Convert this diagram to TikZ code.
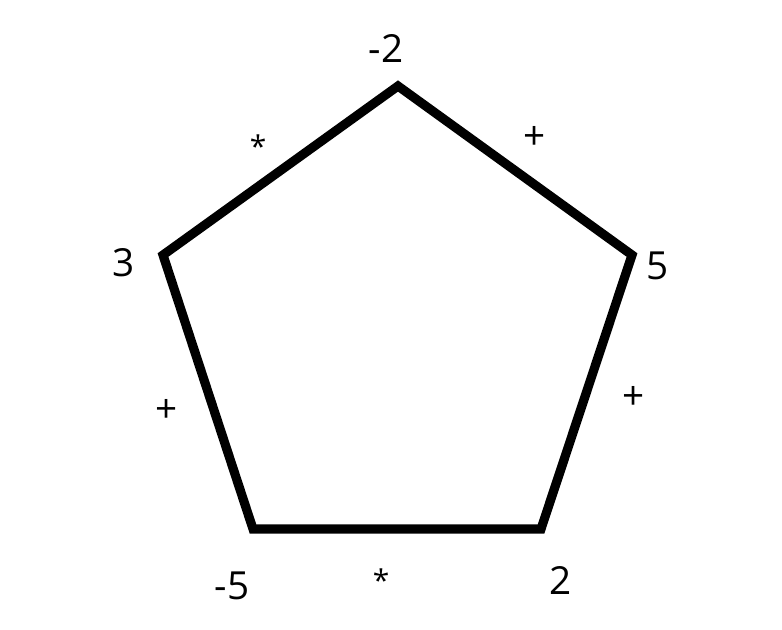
\documentclass[tikz,border=0pt]{standalone}
\usepackage{fontspec}
\setmainfont{Open Sans}
\begin{document}
\begin{tikzpicture}[x=0.01cm,y=-0.01cm,
      every node/.append style={font=\fontsize{11}{13}\selectfont}]
    \tikzstyle{num} = [inner sep=0pt,color=black]
    \tikzstyle{op} = [inner sep=0pt,color=black]
    \tikzstyle{star} = [op,font=\fontsize{8.5}{10}\selectfont]
    \useasboundingbox (0,0) rectangle (782,629);
    % vertices
    \coordinate (top) at (398,86);
    \coordinate (right) at (632,255);
    \coordinate (botright) at (541,529);
    \coordinate (botleft) at (253,529);
    \coordinate (left) at (163,255);
    \draw[line width=2.6pt] (top) -- (right) -- (botright) -- (botleft) -- (left) -- cycle;
    % vertex values
    \node[num] (vtop) at (386,48) {-2};
    \node[num] (vright) at (658,266) {5};
    \node[num] (vbotright) at (561,580) {2};
    \node[num] (vbotleft) at (232,586) {-5};
    \node[num] (vleft) at (124,263) {3};
    % edge operators
    \node[star] (etl) at (258,146) {*};
    \node[op] (etr) at (535,138) {+};
    \node[op] (er) at (634,398) {+};
    \node[star] (eb) at (381,580) {*};
    \node[op] (el) at (167,411) {+};
\end{tikzpicture}
\end{document}
